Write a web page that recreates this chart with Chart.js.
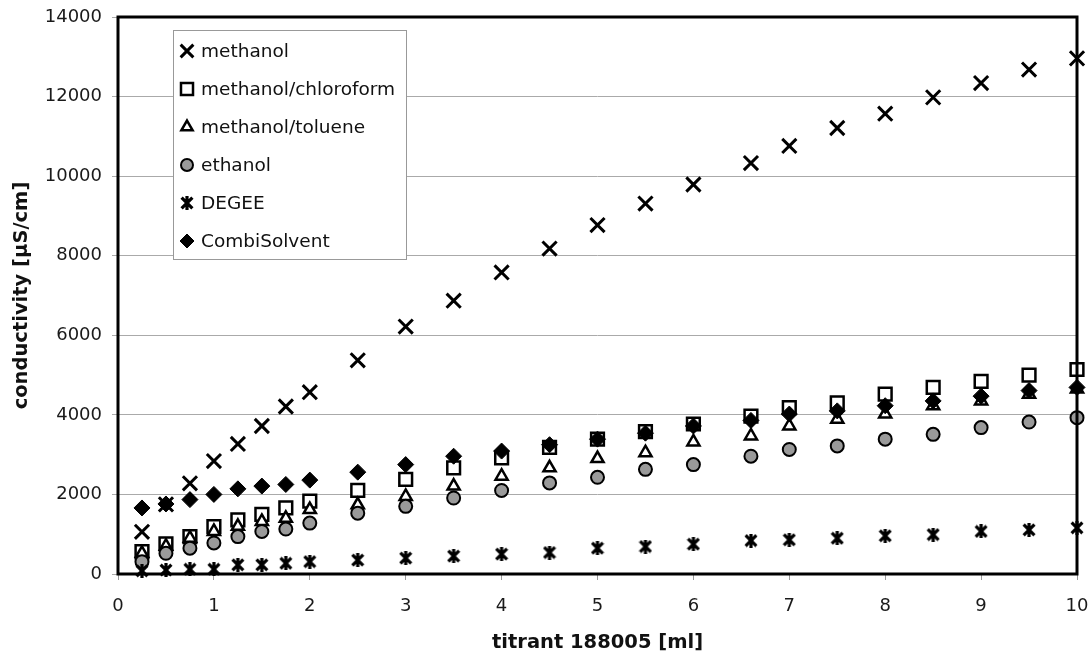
<!DOCTYPE html>
<html>
<head>
<meta charset="utf-8">
<script src="https://cdn.jsdelivr.net/npm/chart.js@4.4.1/dist/chart.umd.min.js"></script>
<style>
  html, body { margin: 0; padding: 0; background: #fff; }
</style>
</head>
<body>
<canvas id="conductivityChart" width="1090" height="663"></canvas>
<script>
// titrant volume [ml] and conductivity readings [µS/cm] for each solvent
const titrant = [0.25, 0.5, 0.75, 1, 1.25, 1.5, 1.75, 2, 2.5, 3, 3.5, 4, 4.5, 5, 5.5, 6, 6.6, 7, 7.5, 8, 8.5, 9, 9.5, 10];

const methanol = [1060, 1750, 2280, 2840, 3270, 3720, 4210, 4570, 5370, 6220, 6870, 7580, 8180, 8770, 9310, 9790, 10330, 10760, 11210, 11570, 11980, 12340, 12680, 12960];
const methanolChloroform = [560, 760, 940, 1190, 1360, 1500, 1660, 1830, 2100, 2380, 2670, 2920, 3180, 3390, 3580, 3770, 3970, 4180, 4300, 4520, 4690, 4840, 5000, 5140];
const methanolToluene = [520, 700, 900, 1070, 1200, 1320, 1400, 1620, 1740, 1950, 2210, 2460, 2670, 2900, 3050, 3320, 3470, 3720, 3890, 4020, 4230, 4350, 4520, 4650];
const ethanol = [310, 520, 650, 780, 940, 1070, 1130, 1280, 1530, 1700, 1910, 2100, 2290, 2430, 2630, 2750, 2960, 3130, 3220, 3390, 3510, 3680, 3820, 3930];
const degee = [80, 100, 120, 120, 230, 230, 270, 310, 350, 400, 450, 500, 540, 650, 690, 750, 840, 860, 900, 960, 990, 1070, 1110, 1160];
const combiSolvent = [1660, 1760, 1870, 2000, 2140, 2210, 2250, 2360, 2560, 2750, 2960, 3090, 3250, 3390, 3540, 3720, 3860, 4020, 4100, 4230, 4350, 4470, 4610, 4690];

const seriesNames = ['methanol', 'methanol/chloroform', 'methanol/toluene', 'ethanol', 'DEGEE', 'CombiSolvent'];

const yTicks = [0, 2000, 4000, 6000, 8000, 10000, 12000, 14000];

function toXY(values) {
  return values.map((v, i) => ({ x: titrant[i], y: v }));
}

// excel style "star" marker: an X with a vertical bar through it
function makeStar(size, lw) {
  const c = document.createElement('canvas');
  c.width = size; c.height = size;
  const g = c.getContext('2d');
  g.strokeStyle = '#000';
  g.lineWidth = lw;
  const m = lw / 2, e = size - lw / 2;
  g.beginPath();
  g.moveTo(m, m); g.lineTo(e, e);
  g.moveTo(e, m); g.lineTo(m, e);
  g.moveTo(size / 2, 0); g.lineTo(size / 2, size);
  g.stroke();
  return c;
}
const starMarker = makeStar(14, 3.2);

const FONT = "'DejaVu Sans', sans-serif";

const framePlugin = {
  id: 'frame',
  afterDatasetsDraw(chart) {
    const { ctx, chartArea: a } = chart;
    ctx.save();
    ctx.strokeStyle = '#000';
    ctx.lineWidth = 3;
    ctx.strokeRect(a.left, a.top, a.right - a.left, a.bottom - a.top);
    ctx.restore();
  }
};

// legend box sitting inside the plot, top left
const boxLegend = {
  id: 'boxLegend',
  afterDraw(chart) {
    const ctx = chart.ctx;
    const left = 173, top = 30, w = 233, h = 229;
    ctx.save();
    ctx.fillStyle = '#fff';
    ctx.fillRect(left, top, w, h);
    ctx.strokeStyle = '#999';
    ctx.lineWidth = 1;
    ctx.strokeRect(left + 0.5, top + 0.5, w, h);
    ctx.font = '18.5px ' + FONT;
    ctx.textBaseline = 'middle';
    ctx.textAlign = 'left';
    chart.data.datasets.forEach((ds, i) => {
      const y = 51 + i * 38;
      ctx.fillStyle = ds.backgroundColor;
      ctx.strokeStyle = ds.borderColor;
      ctx.lineWidth = ds.pointBorderWidth;
      Chart.helpers.drawPoint(ctx, {
        pointStyle: ds.pointStyle,
        radius: ds.legendRadius,
        borderWidth: ds.pointBorderWidth,
        rotation: 0
      }, 187, y);
      ctx.fillStyle = '#111';
      ctx.fillText(ds.label, 201, y + 1);
    });
    ctx.restore();
  }
};

const ctx = document.getElementById('conductivityChart');

const myChart = new Chart(ctx, {
  type: 'scatter',
  data: {
    datasets: [
      { label: seriesNames[0], data: toXY(methanol), pointStyle: 'crossRot', pointRadius: 10, legendRadius: 9,
        pointBorderWidth: 3, borderColor: '#000', backgroundColor: '#000', order: 6 },
      { label: seriesNames[1], data: toXY(methanolChloroform), pointStyle: 'rect', pointRadius: 9, legendRadius: 8.5,
        pointBorderWidth: 2.5, borderColor: '#000', backgroundColor: '#fff', order: 5 },
      { label: seriesNames[2], data: toXY(methanolToluene), pointStyle: 'triangle', pointRadius: 7, legendRadius: 6.5,
        pointBorderWidth: 2.5, borderColor: '#000', backgroundColor: '#fff', order: 4 },
      { label: seriesNames[3], data: toXY(ethanol), pointStyle: 'circle', pointRadius: 6.5, legendRadius: 6,
        pointBorderWidth: 2, borderColor: '#000', backgroundColor: '#9a9a9a', order: 3 },
      { label: seriesNames[4], data: toXY(degee), pointStyle: starMarker, pointRadius: 7, legendRadius: 7,
        pointBorderWidth: 0, borderColor: '#000', backgroundColor: '#000', order: 2 },
      { label: seriesNames[5], data: toXY(combiSolvent), pointStyle: 'rectRot', pointRadius: 8, legendRadius: 7,
        pointBorderWidth: 1, borderColor: '#000', backgroundColor: '#000', order: 1 }
    ].map(d => Object.assign(d, { clip: false, pointHoverRadius: d.pointRadius }))
  },
  options: {
    responsive: false,
    devicePixelRatio: 1,
    animation: false,
    layout: { padding: { top: 17, right: 13, bottom: 0, left: 0 } },
    plugins: { legend: { display: false }, tooltip: { enabled: false } },
    scales: {
      x: {
        type: 'linear',
        min: 0,
        max: 10,
        afterFit(scale) {
          scale.height = 89;
          scale.paddingLeft = 0;
          scale.paddingRight = 0;
        },
        ticks: { stepSize: 1, color: '#1a1a1a', padding: 16, font: { family: FONT, size: 18 } },
        grid: { drawOnChartArea: false, drawTicks: true, tickLength: 6, tickColor: '#999' },
        border: { display: false },
        title: { display: true, text: 'titrant 188005 [ml]', color: '#111',
          font: { family: FONT, size: 19.5, weight: 'bold' }, padding: { top: 0, bottom: 8 } }
      },
      y: {
        min: 0,
        max: 14000,
        afterFit(scale) {
          scale.width = 118;
          scale.paddingTop = 0;
          scale.paddingBottom = 0;
        },
        afterBuildTicks(scale) { scale.ticks = yTicks.map(v => ({ value: v })); },
        ticks: { color: '#1a1a1a', padding: 10, font: { family: FONT, size: 18 }, callback: v => String(v) },
        grid: { color: '#aaa', lineWidth: 1, tickLength: 6, tickColor: '#aaa' },
        border: { display: false },
        title: { display: true, text: 'conductivity [µS/cm]', color: '#111',
          font: { family: FONT, size: 19.5, weight: 'bold' }, padding: { top: 10, bottom: 0 } }
      }
    }
  },
  plugins: [framePlugin, boxLegend]
});
</script>
</body>
</html>
